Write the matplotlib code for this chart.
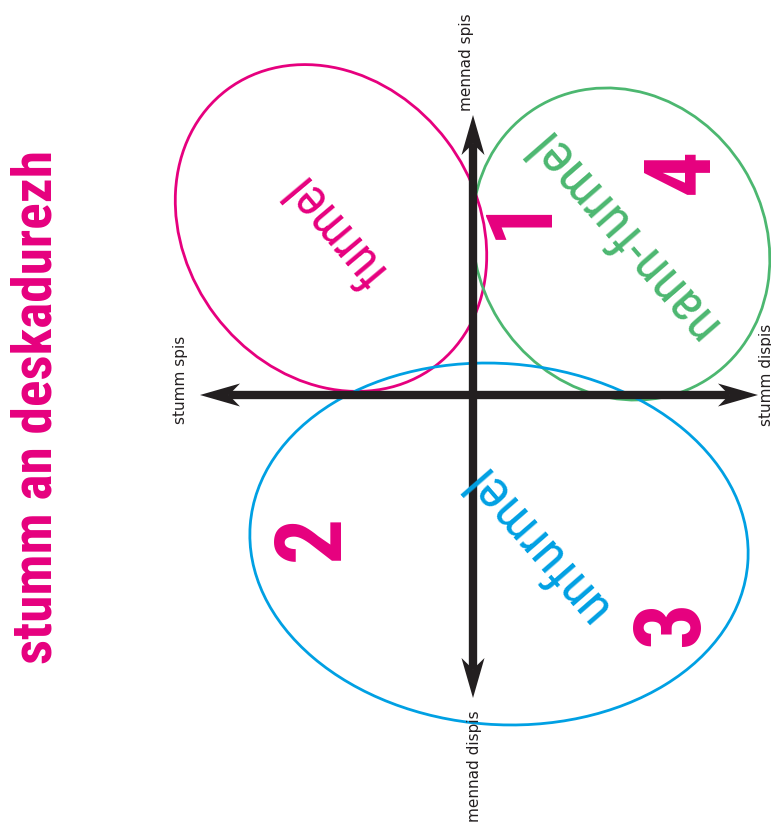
import matplotlib
matplotlib.use('Agg')
import matplotlib.pyplot as plt
from matplotlib import font_manager
from matplotlib.patches import Ellipse, Polygon

# quadrant diagram, drawn in pixel coordinates of the 771x827 page

PINK = '#e6007e'
GREEN = '#4cb770'
BLUE = '#00a0e3'
DARK = '#231f20'

title = 'stumm an deskadurezh'

# ellipses: centre x, centre y, width, height, angle, colour, label
ell_names = ['furmel', 'nann-furmel', 'unfurmel']
ell_cx = [331, 621, 499]
ell_cy = [228, 244, 544]
ell_w = [346, 321, 499]
ell_h = [290, 288, 361]
ell_ang = [53, 58, 4.4]
ell_col = [PINK, GREEN, BLUE]
lab_x = [336, 620, 535]
lab_y = [230, 234, 542]
lab_rot = [130, 131, 131]
lab_len = [130, 262, 192]   # visible length of each label, px

# quadrant numbers
quad_nums = ['1', '2', '3', '4']
quad_x = [520, 313, 672, 682]
quad_y = [216, 538, 623, 171]

# axes of the diagram
axis_x0, axis_y0 = 473, 395
h_left, h_right = 200, 758
v_top, v_bottom = 115, 698
axis_labels = ['mennad spis', 'mennad dispis', 'stumm spis', 'stumm dispis']
axis_lab_x = [467, 474, 180, 767]
axis_lab_y = [62, 766, 380, 375]

# pick a narrow family if there is one
installed = {f.name for f in font_manager.fontManager.ttflist}
narrow = 'DejaVu Sans'
for name in ['Roboto Condensed', 'Liberation Sans Narrow', 'DejaVu Sans Condensed',
             'Open Sans Condensed']:
    if name in installed:
        narrow = name
        break


def arrow_head(ax, tip, direction, length=40, width=23):
    """notched triangular head; direction is a unit vector (dx, dy)"""
    dx, dy = direction
    px, py = -dy, dx
    tx, ty = tip
    bx, by = tx - dx * length, ty - dy * length
    nx, ny = tx - dx * length * 0.72, ty - dy * length * 0.72
    pts = [(tx, ty),
           (bx + px * width / 2, by + py * width / 2),
           (nx, ny),
           (bx - px * width / 2, by - py * width / 2)]
    ax.add_patch(Polygon(pts, closed=True, color=DARK, lw=0, zorder=4))
    return nx, ny


def fit_length(fig, txt, target):
    """rescale a text so its long side is target pixels"""
    fig.canvas.draw()
    bb = txt.get_window_extent()
    size = max(bb.width, bb.height)
    txt.set_fontsize(txt.get_fontsize() * target / size)


fig = plt.figure(figsize=(7.71, 8.27), dpi=100)
ax = fig.add_axes([0, 0, 1, 1])
ax.set_xlim(0, 771)
ax.set_ylim(827, 0)
ax.axis('off')

# arrows
l_end = arrow_head(ax, (h_left, axis_y0), (-1, 0))
r_end = arrow_head(ax, (h_right, axis_y0), (1, 0))
t_end = arrow_head(ax, (axis_x0, v_top), (0, -1))
b_end = arrow_head(ax, (axis_x0, v_bottom), (0, 1))
ax.plot([l_end[0], r_end[0]], [axis_y0, axis_y0], color=DARK, lw=6, zorder=3,
        solid_capstyle='butt')
ax.plot([axis_x0, axis_x0], [t_end[1], b_end[1]], color=DARK, lw=6, zorder=3,
        solid_capstyle='butt')

labels = []
for i in range(len(ell_names)):
    ax.add_patch(Ellipse((ell_cx[i], ell_cy[i]), ell_w[i], ell_h[i], angle=ell_ang[i],
                         fill=False, edgecolor=ell_col[i], lw=2, zorder=2))
    t = ax.text(lab_x[i], lab_y[i], ell_names[i], color=ell_col[i], fontsize=30,
                family=narrow, rotation=0, rotation_mode='anchor',
                ha='center', va='center', zorder=5)
    labels.append(t)

for num, x, y in zip(quad_nums, quad_x, quad_y):
    ax.text(x, y, num, color=PINK, fontsize=66 if narrow != 'DejaVu Sans' else 58,
            fontweight='bold', family=narrow,
            rotation=90, ha='center', va='center', zorder=5)

for lab, x, y in zip(axis_labels, axis_lab_x, axis_lab_y):
    ax.text(x, y, lab, color=DARK, fontsize=11, family='DejaVu Sans',
            rotation=90, ha='center', va='center', zorder=5)

head = ax.text(37, 407, title, color=PINK, fontsize=43, fontweight='bold',
               family=narrow, rotation=90, ha='center', va='center')
fit_length(fig, head, 515)

# size the ellipse labels while flat, then turn them
for t, n, r in zip(labels, lab_len, lab_rot):
    fit_length(fig, t, n)
    t.set_rotation(r)

fig.savefig('out.png', dpi=100)
